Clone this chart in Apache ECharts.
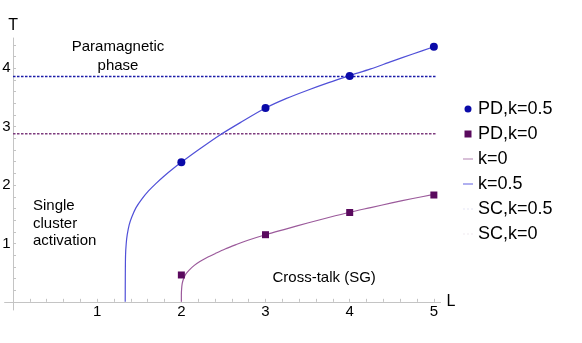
<!DOCTYPE html>
<html>
<head>
<meta charset="utf-8">
<script src="https://cdn.jsdelivr.net/npm/echarts@6/dist/echarts.min.js"></script>
<style>html,body{margin:0;padding:0;background:#fff}#c{width:582px;height:343px}</style>
</head>
<body>
<div id="c"></div>
<script>
// ---- data ----
const xTickLabels = [1, 2, 3, 4, 5];
const yTickLabels = [1, 2, 3, 4];
const xMinorTicks = [0,0.2,0.4,0.6,0.8,1,1.2,1.4,1.6,1.8,2,2.2,2.4,2.6,2.8,3,3.2,3.4,3.6,3.8,4,4.2,4.4,4.6,4.8,5];
const yMinorTicks = [0,0.2,0.4,0.6,0.8,1,1.2,1.4,1.6,1.8,2,2.2,2.4,2.6,2.8,3,3.2,3.4,3.6,3.8,4,4.2,4.4];

const pdK05L = [2, 3, 4, 5];
const pdK05T = [2.39, 3.32, 3.87, 4.37];
const pdK0L = [2, 3, 4, 5];
const pdK0T = [0.46, 1.15, 1.53, 1.83];

const curveK05L = [1.333,1.334,1.337,1.345,1.357,1.38,1.41,1.46,1.53,1.61,1.70,1.80,1.90,2.0,2.2,2.45,2.7,3.0,3.25,3.5,3.75,4.0,4.25,4.5,4.75,5.0];
const curveK05T = [0,0.4,0.8,1.0,1.15,1.32,1.45,1.61,1.76,1.90,2.03,2.16,2.28,2.39,2.60,2.85,3.07,3.32,3.485,3.625,3.755,3.875,3.99,4.12,4.245,4.37];

const curveK0L = [2.0,2.0,2.003,2.01,2.025,2.05,2.09,2.15,2.22,2.30,2.40,2.52,2.65,2.80,3.0,3.25,3.5,3.75,4.0,4.25,4.5,4.75,5.0];
const curveK0T = [0,0.12,0.22,0.31,0.39,0.47,0.54,0.62,0.69,0.755,0.825,0.905,0.98,1.06,1.15,1.25,1.35,1.445,1.535,1.615,1.695,1.77,1.84];

const scK05T = 3.86;
const scK0T = 2.88;
const scL = [0, 5.02];

const seriesNames = ['PD,k=0.5', 'PD,k=0', 'k=0', 'k=0.5', 'SC,k=0.5', 'SC,k=0'];

// ---- build ----
const zip = (a, b) => a.map((v, i) => [v, b[i]]);
const FONT = 'Liberation Sans, Arial, sans-serif';
const LINE_ICON = 'path://M0,0h10v1h-10z';
const DOT_ICON = 'path://M0,0h2v1h-2z M4,0h2v1h-2z M8,0h2v1h-2z';

const chart = echarts.init(document.getElementById('c'), null, {renderer: 'canvas'});
chart.setOption({
  animation: false,
  backgroundColor: '#ffffff',
  grid: {left: 4.6, top: 38, width: 436, height: 272, containLabel: false, outerBoundsMode: 'none'},
  xAxis: {
    type: 'value', min: -0.1, max: 5.08,
    name: 'L', nameLocation: 'end', nameGap: 6,
    nameTextStyle: {fontSize: 16, color: '#000', fontFamily: FONT, padding: [0, 0, 5, 0]},
    axisLine: {onZero: true, lineStyle: {color: '#c4c4c4', width: 1}},
    axisTick: {show: true, inside: true, length: 3, customValues: xMinorTicks, lineStyle: {color: '#c4c4c4'}},
    axisLabel: {customValues: xTickLabels, fontSize: 15, color: '#000', fontFamily: FONT, margin: -6},
    splitLine: {show: false}
  },
  yAxis: {
    type: 'value', min: -0.14, max: 4.52,
    name: 'T', nameLocation: 'end', nameGap: 4,
    nameTextStyle: {fontSize: 16, color: '#000', fontFamily: FONT},
    axisLine: {onZero: true, lineStyle: {color: '#c4c4c4', width: 1}},
    axisTick: {show: true, inside: true, length: 3, customValues: yMinorTicks, lineStyle: {color: '#c4c4c4'}},
    axisLabel: {customValues: yTickLabels, fontSize: 15, color: '#000', fontFamily: FONT, margin: -5.9},
    splitLine: {show: false}
  },
  legend: {
    orient: 'vertical', left: 458, top: 95,
    itemWidth: 10, itemHeight: 7, itemGap: 7,
    textStyle: {fontSize: 18, color: '#000', fontFamily: FONT},
    data: [
      {name: seriesNames[0], icon: 'circle', itemStyle: {color: '#0a0aa8'}},
      {name: seriesNames[1], icon: 'path://M0,0h6v6h-6z', itemStyle: {color: '#5a0a5e'}},
      {name: seriesNames[2], icon: LINE_ICON, itemStyle: {color: '#b080b0', borderWidth: 0}, lineStyle: {color: '#b080b0', type: 'solid', width: 0}},
      {name: seriesNames[3], icon: LINE_ICON, itemStyle: {color: '#6060e0', borderWidth: 0}, lineStyle: {color: '#6060e0', type: 'solid', width: 0}},
      {name: seriesNames[4], icon: DOT_ICON, itemStyle: {color: '#e6e6f6', borderWidth: 0}, lineStyle: {color: '#e6e6f6', type: 'solid', width: 0}},
      {name: seriesNames[5], icon: DOT_ICON, itemStyle: {color: '#f0eaf0', borderWidth: 0}, lineStyle: {color: '#f0eaf0', type: 'solid', width: 0}}
    ],
    selectedMode: false
  },
  graphic: [
    {type: 'text', x: 118, y: 37.5, style: {text: 'Paramagnetic\nphase', fontSize: 15, fontFamily: FONT, fill: '#000', align: 'center', lineHeight: 19}},
    {type: 'text', x: 33, y: 197.5, style: {text: 'Single\ncluster\nactivation', fontSize: 15, fontFamily: FONT, fill: '#000', align: 'left', lineHeight: 17.4}},
    {type: 'text', x: 272.5, y: 270, style: {text: 'Cross-talk (SG)', fontSize: 15, fontFamily: FONT, fill: '#000', align: 'left', lineHeight: 16}}
  ],
  series: [
    {
      name: seriesNames[4], type: 'line', data: zip(scL, scL.map(() => scK05T)),
      symbol: 'none', showSymbol: false, z: 2,
      lineStyle: {color: '#1c1ca8', width: 1.3, type: [2.5, 1.5]}, itemStyle: {color: '#1c1ca8'}
    },
    {
      name: seriesNames[5], type: 'line', data: zip(scL, scL.map(() => scK0T)),
      symbol: 'none', showSymbol: false, z: 2,
      lineStyle: {color: '#7e3c7e', width: 1.3, type: [2.5, 1.5]}, itemStyle: {color: '#7e3c7e'}
    },
    {
      name: seriesNames[2], type: 'line', data: zip(curveK0L, curveK0T),
      symbol: 'none', showSymbol: false, smooth: 0.3, z: 3,
      lineStyle: {color: '#9b5a9b', width: 1.2}, itemStyle: {color: '#9b5a9b'}
    },
    {
      name: seriesNames[3], type: 'line', data: zip(curveK05L, curveK05T),
      symbol: 'none', showSymbol: false, smooth: 0.3, z: 3,
      lineStyle: {color: '#5050d8', width: 1.2}, itemStyle: {color: '#5050d8'}
    },
    {
      name: seriesNames[0], type: 'scatter', data: zip(pdK05L, pdK05T),
      symbol: 'circle', symbolSize: 8, z: 5,
      itemStyle: {color: '#0a0aa8', opacity: 1}
    },
    {
      name: seriesNames[1], type: 'scatter', data: zip(pdK0L, pdK0T),
      symbol: 'rect', symbolSize: 7, z: 5,
      itemStyle: {color: '#5a0a5e', opacity: 1}
    }
  ]
});
</script>
</body>
</html>
